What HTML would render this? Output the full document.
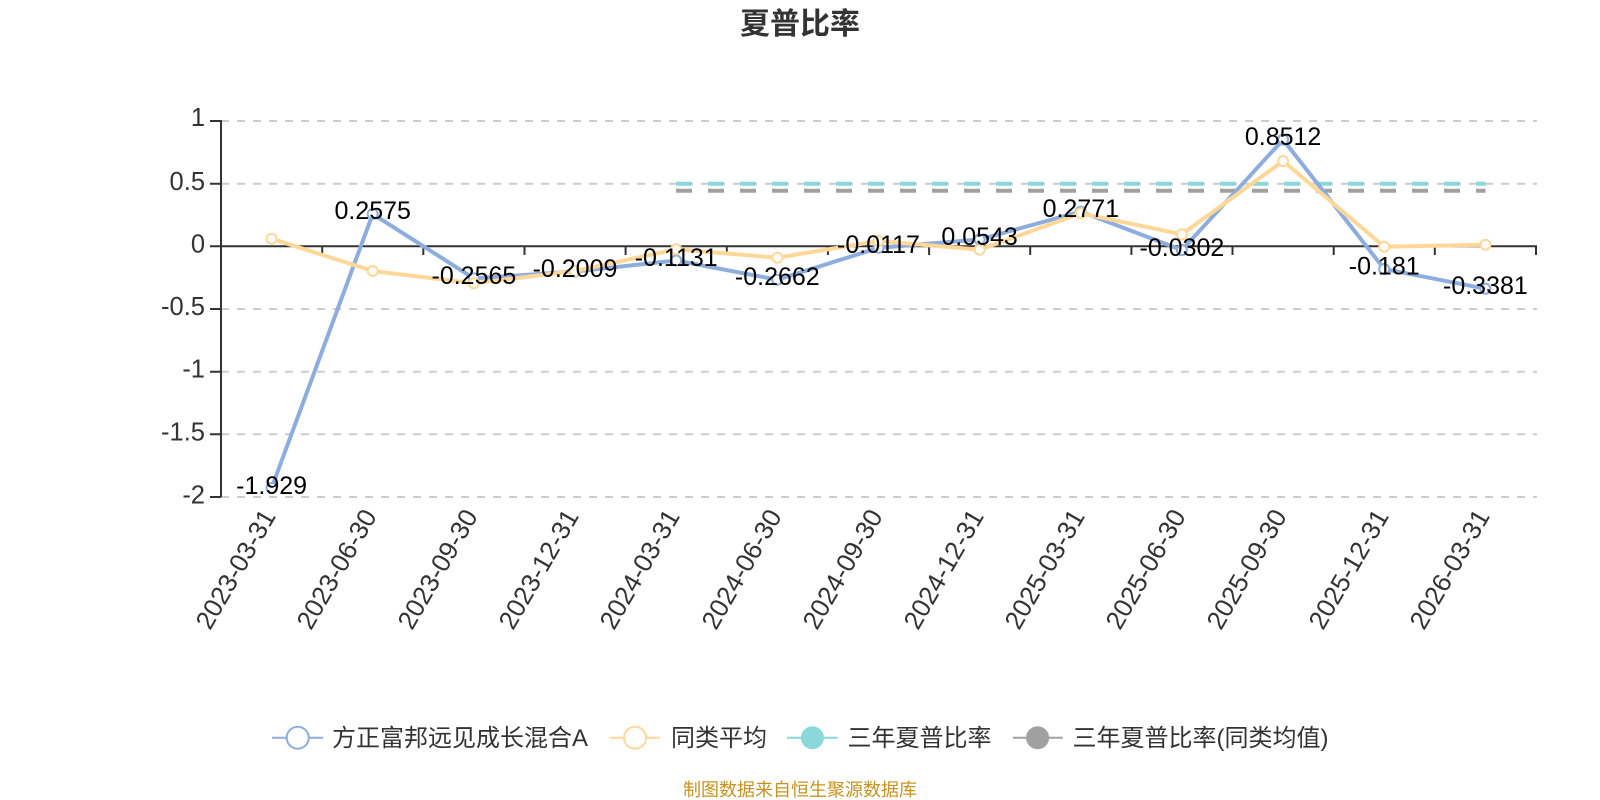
<!DOCTYPE html>
<html lang="zh">
<head>
<meta charset="utf-8">
<style>
html,body{margin:0;padding:0;background:#fff;width:1600px;height:800px;overflow:hidden}
svg{display:block}
text{font-family:"Liberation Sans","Noto Sans CJK SC",sans-serif}
.y{font-size:25.5px;fill:#333;text-anchor:end}
.x{font-size:26px;fill:#333;text-anchor:end}
.d{font-size:25px;fill:#000;text-anchor:middle}
.l{font-size:24px;fill:#333}
</style>
</head>
<body>
<svg width="1600" height="800" viewBox="0 0 1600 800" xmlns="http://www.w3.org/2000/svg">
<text x="800" y="34" text-anchor="middle" font-size="30" font-weight="700" fill="#333">夏普比率</text>

<g stroke="#ccc" stroke-width="2" stroke-dasharray="8 8" fill="none">
<path d="M221 121H1537M221 183.7H1537M221 309H1537M221 371.7H1537M221 434.3H1537M221 497H1537"/>
</g>

<g stroke="#333" stroke-width="2" fill="none">
<path d="M221 120V497"/>
<path d="M210 121H221M210 183.7H221M210 246.3H221M210 309H221M210 371.7H221M210 434.3H221M210 497H221"/>
<path d="M221 246.3H1537"/>
<path d="M322.2 246V255M423.3 246V255M524.5 246V255M625.6 246V255M726.8 246V255M827.9 246V255M929.1 246V255M1030.2 246V255M1131.4 246V255M1232.5 246V255M1333.7 246V255M1434.8 246V255M1536 246V255"/>
</g>

<g>
<text class="y" x="205" y="126">1</text>
<text class="y" x="205" y="190">0.5</text>
<text class="y" x="205" y="252.3">0</text>
<text class="y" x="205" y="315">-0.5</text>
<text class="y" x="205" y="377.7">-1</text>
<text class="y" x="205" y="440.3">-1.5</text>
<text class="y" x="205" y="503.5">-2</text>
</g>

<g>
<text class="x" transform="translate(276.5,516) rotate(-60)">2023-03-31</text>
<text class="x" transform="translate(377.5,516) rotate(-60)">2023-06-30</text>
<text class="x" transform="translate(478.5,516) rotate(-60)">2023-09-30</text>
<text class="x" transform="translate(579.5,516) rotate(-60)">2023-12-31</text>
<text class="x" transform="translate(680.5,516) rotate(-60)">2024-03-31</text>
<text class="x" transform="translate(782.5,516) rotate(-60)">2024-06-30</text>
<text class="x" transform="translate(883.5,516) rotate(-60)">2024-09-30</text>
<text class="x" transform="translate(984.5,516) rotate(-60)">2024-12-31</text>
<text class="x" transform="translate(1085.5,516) rotate(-60)">2025-03-31</text>
<text class="x" transform="translate(1186.5,516) rotate(-60)">2025-06-30</text>
<text class="x" transform="translate(1287.5,516) rotate(-60)">2025-09-30</text>
<text class="x" transform="translate(1389.5,516) rotate(-60)">2025-12-31</text>
<text class="x" transform="translate(1490.5,516) rotate(-60)">2026-03-31</text>
</g>

<path d="M676 183.7H1485.5" stroke="#8ad8da" stroke-width="4" stroke-dasharray="16 16" fill="none"/>
<path d="M676 190.7H1485.5" stroke="#a0a0a0" stroke-width="4" stroke-dasharray="16 16" fill="none"/>

<polyline fill="none" stroke="#8cadde" stroke-width="4" stroke-linejoin="round" points="271.6,488 372.7,214 473.9,278.4 575,271.5 676.2,260.5 777.3,279.7 878.5,247.8 979.6,239.5 1080.8,211.6 1181.9,250.1 1283.1,139.6 1384.2,269 1485.4,288.7"/>
<g fill="#fff" stroke="#8cadde" stroke-width="2">
<circle cx="271.6" cy="488" r="5"/><circle cx="372.7" cy="214" r="5"/><circle cx="473.9" cy="278.4" r="5"/><circle cx="575" cy="271.5" r="5"/><circle cx="676.2" cy="260.5" r="5"/><circle cx="777.3" cy="279.7" r="5"/><circle cx="878.5" cy="247.8" r="5"/><circle cx="979.6" cy="239.5" r="5"/><circle cx="1080.8" cy="211.6" r="5"/><circle cx="1181.9" cy="250.1" r="5"/><circle cx="1283.1" cy="139.6" r="5"/><circle cx="1384.2" cy="269" r="5"/><circle cx="1485.4" cy="288.7" r="5"/>
</g>

<polyline fill="none" stroke="#ffd898" stroke-width="4" stroke-linejoin="round" points="271.6,238.7 372.7,271 473.9,283.3 575,271 676.2,249.3 777.3,257.7 878.5,241 979.6,249.7 1080.8,213.3 1181.9,234.3 1283.1,161 1384.2,246.7 1485.4,244.7"/>
<g fill="#fff" stroke="#ffd898" stroke-width="2">
<circle cx="271.6" cy="238.7" r="5"/><circle cx="372.7" cy="271" r="5"/><circle cx="473.9" cy="283.3" r="5"/><circle cx="575" cy="271" r="5"/><circle cx="676.2" cy="249.3" r="5"/><circle cx="777.3" cy="257.7" r="5"/><circle cx="878.5" cy="241" r="5"/><circle cx="979.6" cy="249.7" r="5"/><circle cx="1080.8" cy="213.3" r="5"/><circle cx="1181.9" cy="234.3" r="5"/><circle cx="1283.1" cy="161" r="5"/><circle cx="1384.2" cy="246.7" r="5"/><circle cx="1485.4" cy="244.7" r="5"/>
</g>

<g>
<text class="d" x="271.6" y="494">-1.929</text>
<text class="d" x="372.7" y="219">0.2575</text>
<text class="d" x="473.9" y="284">-0.2565</text>
<text class="d" x="575" y="277">-0.2009</text>
<text class="d" x="676.2" y="266">-0.1131</text>
<text class="d" x="777.3" y="285">-0.2662</text>
<text class="d" x="878.5" y="253">-0.0117</text>
<text class="d" x="979.6" y="245">0.0543</text>
<text class="d" x="1080.8" y="217">0.2771</text>
<text class="d" x="1181.9" y="256">-0.0302</text>
<text class="d" x="1283.1" y="145">0.8512</text>
<text class="d" x="1384.2" y="274.5">-0.181</text>
<text class="d" x="1485.4" y="294">-0.3381</text>
</g>

<path d="M272 737.7H323" stroke="#8cadde" stroke-width="2"/>
<circle cx="297.7" cy="737.7" r="11" fill="#fff" stroke="#8cadde" stroke-width="2"/>
<text class="l" x="332" y="746">方正富邦远见成长混合A</text>

<path d="M610 737.7H660" stroke="#ffd898" stroke-width="2"/>
<circle cx="635" cy="737.7" r="11" fill="#fff" stroke="#ffd898" stroke-width="2"/>
<text class="l" x="671" y="746">同类平均</text>

<path d="M787 737.7H837.5" stroke="#8ad8da" stroke-width="2"/>
<circle cx="812.4" cy="737.7" r="11.5" fill="#8ad8da"/>
<text class="l" x="847.5" y="746">三年夏普比率</text>

<path d="M1012.8 737.7H1062.8" stroke="#a0a0a0" stroke-width="2"/>
<circle cx="1037.6" cy="737.7" r="11.5" fill="#a0a0a0"/>
<text class="l" x="1072.5" y="746">三年夏普比率(同类均值)</text>

<text x="800" y="796" text-anchor="middle" font-size="18" fill="#c8921e">制图数据来自恒生聚源数据库</text>
</svg>
</body>
</html>
